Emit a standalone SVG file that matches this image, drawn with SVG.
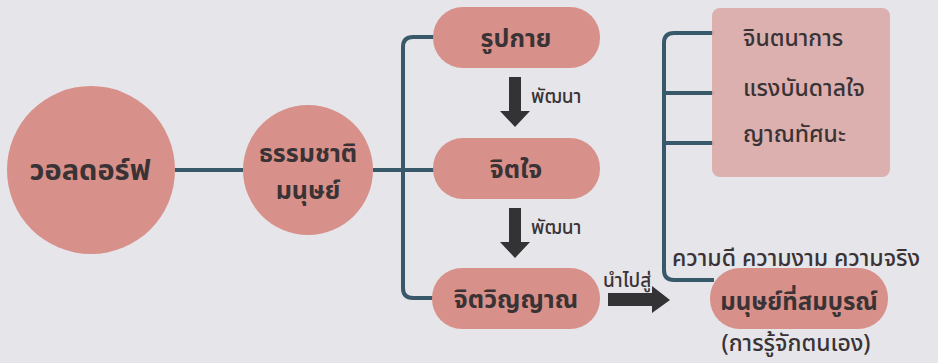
<svg xmlns="http://www.w3.org/2000/svg" width="938" height="363" viewBox="0 0 938 363">
<style>
.pk{fill:#d8908a}
.box{fill:#d9aaa8;opacity:0.9}
.ln{fill:none;stroke:#38596a;stroke-width:4}
.ar{fill:#333335}
text{font-family:"Noto Sans Thai","Noto Sans","DejaVu Sans",sans-serif;fill:#3a3335}
.b{font-weight:bold;font-size:25px;text-anchor:middle}
.m{font-size:23px;font-weight:500}
.s{font-size:19px;font-weight:500}
</style>
<rect width="938" height="363" fill="#e5e5ea"/>
<g id="connectors">
<line class="ln" x1="175" y1="170" x2="243" y2="170"/>
<line class="ln" x1="373" y1="170" x2="434" y2="170"/>
<path class="ln" d="M434,37 H413 Q403,37 403,47 V288 Q403,298 413,298 H434"/>
<path class="ln" d="M714,33 H674 Q664,33 664,43 V270 Q664,280 674,280 H714"/>
<line class="ln" x1="664" y1="93" x2="714" y2="93"/>
<line class="ln" x1="664" y1="143" x2="714" y2="143"/>
<path class="ar" d="M509,77 H521 V111 H530 L515,127 L500,111 H509 Z"/>
<path class="ar" d="M509,208 H521 V242 H530 L515,258 L500,242 H509 Z"/>
<path class="ar" d="M608,293 H652 V286 L670,300 L652,313 V306 H608 Z"/>
<text class="s" x="531" y="103">พัฒนา</text>
<text class="s" x="531" y="234">พัฒนา</text>
<text class="s" x="603" y="287">นำไปสู่</text>
</g>
<g id="n-waldorf"><circle class="pk" cx="91" cy="170" r="84"/><text class="b" x="90" y="180" style="font-size:29px">วอลดอร์ฟ</text></g>
<g id="n-nature"><circle class="pk" cx="308" cy="170" r="65"/><text class="b" x="308" y="162">ธรรมชาติ</text><text class="b" x="308" y="199">มนุษย์</text></g>
<g id="n-body"><rect class="pk" x="433" y="7" width="167" height="61" rx="30"/><text class="b" x="516" y="47">รูปกาย</text></g>
<g id="n-mind"><rect class="pk" x="433" y="138" width="167" height="61" rx="30"/><text class="b" x="516" y="178">จิตใจ</text></g>
<g id="n-spirit"><rect class="pk" x="432" y="268" width="168" height="61" rx="30"/><text class="b" x="516" y="308">จิตวิญญาณ</text></g>
<g id="n-faculties"><rect class="box" x="712" y="8" width="178" height="169" rx="8"/>
<text class="m" x="743" y="46">จินตนาการ</text>
<text class="m" x="743" y="96">แรงบันดาลใจ</text>
<text class="m" x="743" y="142">ญาณทัศนะ</text></g>
<g id="n-values"><text class="m" x="672" y="266">ความดี ความงาม ความจริง</text></g>
<g id="n-complete"><rect class="pk" x="710" y="268" width="178" height="61" rx="30"/><text class="b" x="799" y="310" style="font-size:24px">มนุษย์ที่สมบูรณ์</text></g>
<g id="n-self"><text class="m" x="796" y="351" style="text-anchor:middle">(การรู้จักตนเอง)</text></g>
</svg>
